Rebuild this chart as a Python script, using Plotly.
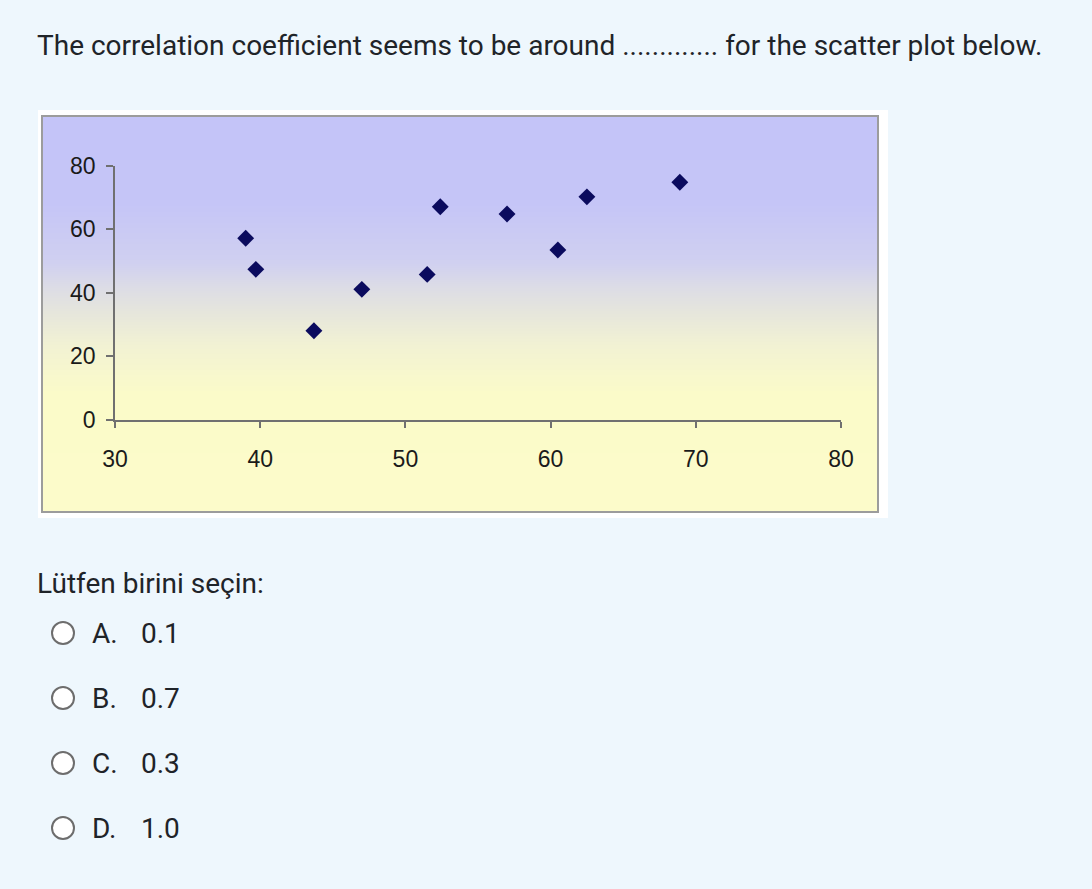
import plotly.graph_objects as go

W, H = 1092, 889

# scatter values
x_vals = [39.0, 39.7, 43.7, 47.0, 51.5, 52.4, 57.0, 60.5, 62.5, 68.9]
y_vals = [57.2, 47.4, 28.1, 41.1, 45.8, 67.1, 64.8, 53.5, 70.2, 74.8]

x_ticks = [30, 40, 50, 60, 70, 80]
y_ticks = [0, 20, 40, 60, 80]

question = "The correlation coefficient seems to be around ............. for the scatter plot below."
prompt = "Lütfen birini seçin:"
letters = ["A.", "B.", "C.", "D."]
answers = ["0.1", "0.7", "0.3", "1.0"]


def px(x):
    return x / W


def py(y):
    return 1 - y / H


TEXT = "#1f2429"
QFONT = "Roboto"

fig = go.Figure()

# gradient background of the chart picture (on the first subplot so it sits underneath)
fig.add_trace(go.Heatmap(
    x=[0, 1], y=[0, 1], z=[[0, 0], [1, 1]],
    zsmooth="best", showscale=False, hoverinfo="skip",
    colorscale=[[0, "#fcfbca"], [0.3, "#fbfbc9"], [0.42, "#f2f2d3"],
                [0.505, "#e6e6dc"], [0.57, "#dcdce6"], [0.63, "#d0d0f0"],
                [0.78, "#c5c5f7"], [1, "#c4c4f8"]],
    xaxis="x", yaxis="y",
))

fig.add_trace(go.Scatter(
    x=x_vals, y=y_vals, mode="markers",
    marker=dict(symbol="diamond", size=13, color="#0b0b5e"),
    xaxis="x2", yaxis="y2", cliponaxis=False, showlegend=False,
))

axis_col = "#707070"
tick_font = dict(family="Liberation Sans", size=23, color="#1a1a1a")

fig.update_layout(
    width=W, height=H,
    margin=dict(l=0, r=0, t=0, b=0, autoexpand=False),
    paper_bgcolor="#eef7fd",
    plot_bgcolor="rgba(0,0,0,0)",
    showlegend=False,
    xaxis=dict(domain=[px(42), px(878)], range=[0, 1], visible=False, fixedrange=True),
    yaxis=dict(domain=[py(512), py(116)], range=[0, 1], visible=False, fixedrange=True),
    xaxis2=dict(
        domain=[px(115), px(841)], range=[30, 80], anchor="y2",
        tickvals=x_ticks, showgrid=False, zeroline=False,
        showline=True, linecolor=axis_col, linewidth=1.5,
        ticks="outside", ticklen=6, tickcolor=axis_col, tickwidth=1.5,
        tickfont=tick_font, ticklabelstandoff=12,
    ),
    yaxis2=dict(
        domain=[py(420), py(165.7)], range=[0, 80], anchor="x2",
        tickvals=y_ticks, showgrid=False, zeroline=False,
        showline=True, linecolor=axis_col, linewidth=1.5,
        ticks="outside", ticklen=7, tickcolor=axis_col, tickwidth=1.5,
        tickfont=tick_font, ticklabelstandoff=6,
    ),
)

shapes = [
    dict(type="rect", xref="paper", yref="paper", layer="below",
         x0=px(38), x1=px(888), y0=py(518), y1=py(110),
         fillcolor="#ffffff", line=dict(width=0)),
    dict(type="rect", xref="paper", yref="paper", layer="above",
         x0=px(42), x1=px(878), y0=py(512), y1=py(116),
         fillcolor="rgba(0,0,0,0)", line=dict(color="#9c9c9c", width=2)),
]

annotations = [
    dict(text=question, x=px(35), y=py(45), xref="paper", yref="paper",
         xanchor="left", yanchor="middle", showarrow=False,
         font=dict(family=QFONT, size=28, color=TEXT)),
    dict(text=prompt, x=px(35), y=py(583), xref="paper", yref="paper",
         xanchor="left", yanchor="middle", showarrow=False,
         font=dict(family=QFONT, size=28, color=TEXT)),
]

row_y = [633, 698, 763, 828]
for yy, letter, ans in zip(row_y, letters, answers):
    shapes.append(dict(type="circle", xref="paper", yref="paper", layer="above",
                       x0=px(52), x1=px(74), y0=py(yy + 11), y1=py(yy - 11),
                       fillcolor="#ffffff", line=dict(color="#6d6d6d", width=2)))
    annotations.append(dict(text=letter, x=px(90), y=py(yy), xref="paper", yref="paper",
                            xanchor="left", yanchor="middle", showarrow=False,
                            font=dict(family=QFONT, size=28, color=TEXT)))
    annotations.append(dict(text=ans, x=px(139), y=py(yy), xref="paper", yref="paper",
                            xanchor="left", yanchor="middle", showarrow=False,
                            font=dict(family=QFONT, size=28, color=TEXT)))

fig.update_layout(shapes=shapes, annotations=annotations)

fig.write_html("out.html", config={"displayModeBar": False},
               post_script="document.body.style.margin = '0';")
